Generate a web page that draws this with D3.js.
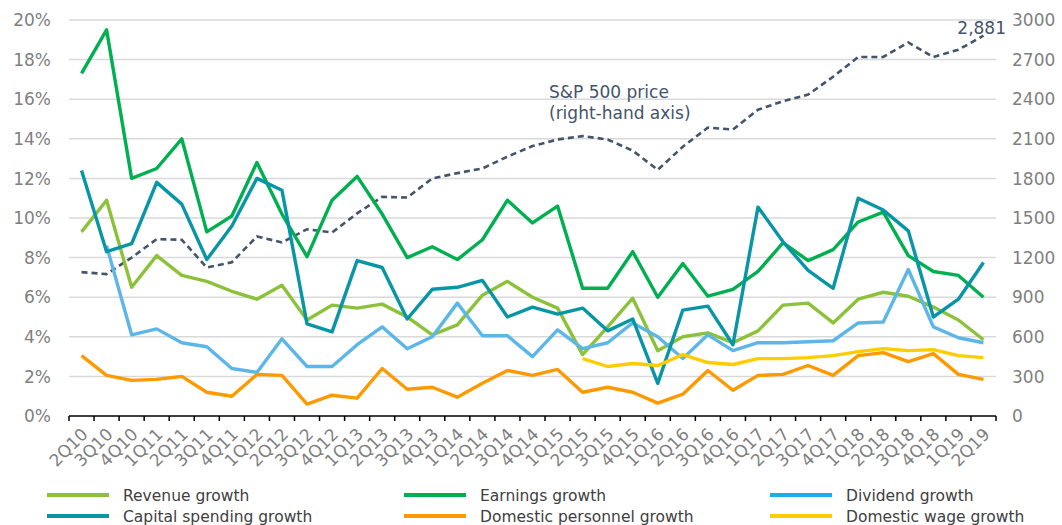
<!DOCTYPE html>
<html>
<head>
<meta charset="utf-8">
<script src="https://cdn.jsdelivr.net/npm/d3@7"></script>
<style>
  body { margin: 0; background: #fff; }
  svg { display: block; font-family: Verdana, "DejaVu Sans", sans-serif; }
</style>
</head>
<body>
<svg id="chart" width="1062" height="525"></svg>
<script>
const quarters = ["2Q10","3Q10","4Q10","1Q11","2Q11","3Q11","4Q11","1Q12","2Q12","3Q12","4Q12",
  "1Q13","2Q13","3Q13","4Q13","1Q14","2Q14","3Q14","4Q14","1Q15","2Q15","3Q15","4Q15",
  "1Q16","2Q16","3Q16","4Q16","1Q17","2Q17","3Q17","4Q17","1Q18","2Q18","3Q18","4Q18","1Q19","2Q19"];

const revenue = [9.3,10.9,6.5,8.1,7.1,6.8,6.3,5.9,6.6,4.85,5.6,5.45,5.65,5.0,4.1,4.6,6.1,6.8,6.0,5.45,
  3.1,4.5,5.95,3.3,4.0,4.2,3.7,4.3,5.6,5.7,4.7,5.9,6.25,6.05,5.5,4.85,3.85];
const earnings = [17.3,19.5,12.0,12.5,14.0,9.3,10.1,12.8,10.2,8.05,10.9,12.1,10.2,8.0,8.55,7.9,8.9,10.9,9.75,10.6,
  6.45,6.45,8.3,6.0,7.7,6.05,6.4,7.3,8.75,7.85,8.4,9.8,10.3,8.1,7.3,7.1,6.0];
const dividend = [null,8.6,4.1,4.4,3.7,3.5,2.4,2.2,3.9,2.5,2.5,3.6,4.5,3.4,4.0,5.7,4.05,4.05,3.0,4.35,
  3.4,3.7,4.7,4.0,2.9,4.1,3.3,3.7,3.7,3.75,3.8,4.7,4.75,7.4,4.5,3.95,3.7];
const capex = [12.4,8.3,8.7,11.8,10.7,7.9,9.6,12.0,11.4,4.65,4.25,7.85,7.5,4.9,6.4,6.5,6.85,5.0,5.5,5.15,
  5.45,4.3,4.9,1.65,5.35,5.55,3.6,10.55,8.8,7.35,6.45,11.0,10.4,9.35,5.0,5.9,7.75];
const personnel = [3.05,2.05,1.8,1.85,2.0,1.2,1.0,2.1,2.05,0.6,1.05,0.9,2.4,1.35,1.45,0.95,1.65,2.3,2.05,2.35,
  1.2,1.45,1.2,0.65,1.1,2.3,1.3,2.05,2.1,2.55,2.05,3.05,3.2,2.75,3.15,2.1,1.85];
const wage = [null,null,null,null,null,null,null,null,null,null,null,null,null,null,null,null,null,null,null,null,
  2.9,2.5,2.65,2.55,3.1,2.7,2.6,2.9,2.9,2.95,3.05,3.25,3.4,3.3,3.35,3.05,2.95];
const sp500 = [1090,1075,1200,1340,1335,1125,1165,1360,1315,1415,1390,1535,1660,1655,1800,1840,1875,1965,2045,2095,
  2120,2095,2010,1865,2040,2185,2170,2320,2385,2435,2570,2720,2720,2830,2720,2775,2881];

const leftTicks = [0,2,4,6,8,10,12,14,16,18,20];
const rightTicks = [0,300,600,900,1200,1500,1800,2100,2400,2700,3000];

const series = [
  {name: "Revenue growth", values: revenue, color: "#8cc23a", key: "#8cc23a"},
  {name: "Earnings growth", values: earnings, color: "#00b050", key: "#00b050"},
  {name: "Dividend growth", values: dividend, color: "#5db6e8", key: "#1aafec"},
  {name: "Capital spending growth", values: capex, color: "#0895a5", key: "#0895a5"},
  {name: "Domestic personnel growth", values: personnel, color: "#ff9900", key: "#ff9900"},
  {name: "Domestic wage growth", values: wage, color: "#ffcc00", key: "#ffcc00"}
];
const spColor = "#44546a";
const gray = "#7f7f7f";

const svg = d3.select("#chart");
const [x0, x1, yTop, yBot] = [69, 996, 20, 416];

let x = d3.scaleBand().domain(quarters).range([x0, x1]).padding(0);
let y = d3.scaleLinear().domain([0, 20]).range([yBot, yTop]);
let y2 = d3.scaleLinear().domain([0, 3000]).range([yBot, yTop]);
let cx = q => x(q) + x.bandwidth() / 2;

// gridlines
svg.append("g")
  .selectAll("line")
  .data(leftTicks.filter(t => t > 0))
  .join("line")
  .attr("x1", x0).attr("x2", x1)
  .attr("y1", d => y(d)).attr("y2", d => y(d))
  .attr("stroke", "#d9d9d9")
  .attr("stroke-width", 1.5);

// left axis labels
svg.append("g")
  .selectAll("text")
  .data(leftTicks)
  .join("text")
  .attr("x", 51)
  .attr("y", d => y(d))
  .attr("dy", "0.36em")
  .attr("text-anchor", "end")
  .attr("font-size", 17)
  .attr("fill", gray)
  .text(d => d + "%");

// right axis labels
svg.append("g")
  .selectAll("text")
  .data(rightTicks)
  .join("text")
  .attr("x", 1012)
  .attr("y", d => y2(d))
  .attr("dy", "0.36em")
  .attr("font-size", 17)
  .attr("fill", gray)
  .text(d => d);

// x axis with ticks between categories
let xAxis = svg.append("g").attr("transform", `translate(0,${yBot})`);
xAxis.append("line")
  .attr("x1", x0).attr("x2", x1)
  .attr("stroke", "#000").attr("stroke-width", 1.5);
xAxis.selectAll(".tk")
  .data(quarters.map(q => x(q)).concat([x1]))
  .join("line")
  .attr("class", "tk")
  .attr("x1", d => d).attr("x2", d => d)
  .attr("y1", 0).attr("y2", 5)
  .attr("stroke", "#000").attr("stroke-width", 1.5);
xAxis.selectAll("text")
  .data(quarters)
  .join("text")
  .attr("transform", d => `translate(${cx(d) + 3},${15}) rotate(-45)`)
  .attr("text-anchor", "end")
  .attr("dy", "0.36em")
  .attr("font-size", 17)
  .attr("fill", gray)
  .text(d => d);

// S&P 500 dashed line on right axis
let spLine = d3.line()
  .x((d, i) => cx(quarters[i]))
  .y(d => y2(d));
svg.append("path")
  .datum(sp500)
  .attr("d", spLine)
  .attr("fill", "none")
  .attr("stroke", spColor)
  .attr("stroke-width", 2.6)
  .attr("stroke-dasharray", "6,4");

// growth series
let line = d3.line()
  .defined(d => d !== null)
  .x((d, i) => cx(quarters[i]))
  .y(d => y(d));
for (let s of series) {
  svg.append("path")
    .datum(s.values)
    .attr("d", line)
    .attr("fill", "none")
    .attr("stroke", s.color)
    .attr("stroke-width", 3.4)
    .attr("stroke-linejoin", "round");
}

// annotations
svg.append("text")
  .attr("x", 549).attr("y", 98)
  .attr("font-size", 17).attr("fill", spColor)
  .text("S&P 500 price");
svg.append("text")
  .attr("x", 549).attr("y", 119)
  .attr("font-size", 17).attr("fill", spColor)
  .text("(right-hand axis)");
svg.append("text")
  .attr("x", 1006).attr("y", 34)
  .attr("text-anchor", "end")
  .attr("font-size", 17).attr("fill", spColor)
  .text(d3.format(",")(sp500[sp500.length - 1]));

// legend, 3 columns x 2 rows
let colX = [47, 404, 770];
let rowY = [495, 516];
let leg = svg.append("g")
  .selectAll("g")
  .data(series)
  .join("g")
  .attr("transform", (d, i) => `translate(${colX[i % 3]},${rowY[Math.floor(i / 3)]})`);
leg.append("line")
  .attr("x1", 0).attr("x2", 62)
  .attr("stroke", d => d.key)
  .attr("stroke-width", 4);
leg.append("text")
  .attr("x", 76)
  .attr("dy", "0.36em")
  .attr("font-size", 15.5)
  .attr("fill", "#404040")
  .text(d => d.name);
</script>
</body>
</html>
